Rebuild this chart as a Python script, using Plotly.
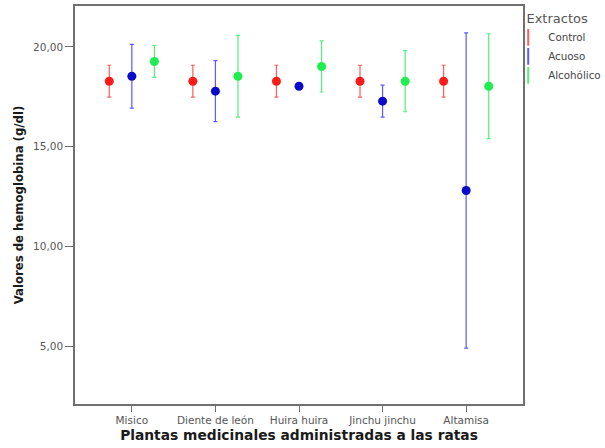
import plotly.graph_objects as go

categories = ["Misico", "Diente de león", "Huira huira", "Jinchu jinchu", "Altamisa"]
series_names = ["Control", "Acuoso", "Alcohólico"]

control_mean = [18.28, 18.28, 18.28, 18.28, 18.28]
control_err = [0.80, 0.80, 0.80, 0.80, 0.80]

acuoso_mean = [18.53, 17.78, 18.03, 17.28, 12.80]
acuoso_err = [1.60, 1.53, 0.0, 0.80, 7.90]

alcoholico_mean = [19.27, 18.53, 19.02, 18.28, 18.03]
alcoholico_err = [0.80, 2.05, 1.28, 1.53, 2.63]

y_tickvals = [5, 10, 15, 20]

marker_colors = ["#ff1a1a", "#0a0ac8", "#1fee50"]
bar_colors = ["#ff5c5c", "#5a5aff", "#52f07a"]

means = [control_mean, acuoso_mean, alcoholico_mean]
errs = [control_err, acuoso_err, alcoholico_err]
offsets = [-0.27, 0.0, 0.27]

fig = go.Figure()
for k in range(3):
    xs = [i + offsets[k] for i in range(len(categories))]
    fig.add_trace(go.Scatter(
        x=xs, y=means[k], mode="markers", name=series_names[k],
        showlegend=False,
        marker=dict(color=marker_colors[k], size=9, symbol="circle"),
        error_y=dict(type="data", array=errs[k], visible=True,
                     color=bar_colors[k], thickness=1.2, width=2),
        text=categories,
    ))
# legend entries with an error-bar like glyph
for k in range(3):
    fig.add_trace(go.Scatter(
        x=[None], y=[None], mode="markers", name=series_names[k],
        marker=dict(color=bar_colors[k], size=8, symbol="line-ns-open",
                    line=dict(color=marker_colors[k], width=1.6)),
    ))

axis_color = "#707070"
tick_font = dict(family="DejaVu Sans, Verdana, sans-serif", size=10.5, color="#555555")
title_family = "DejaVu Sans, Verdana, sans-serif"
fig.update_layout(
    width=605, height=448,
    margin=dict(l=75, r=82, t=6, b=44, autoexpand=False),
    paper_bgcolor="white", plot_bgcolor="white",
    separators=",.",
    font=dict(family="DejaVu Sans, Verdana, sans-serif", color="#444444", size=10),
    xaxis=dict(
        range=[-0.68, 4.68], automargin=False,
        tickmode="array", tickvals=list(range(len(categories))), ticktext=categories,
        showgrid=False, zeroline=False,
        showline=True, linecolor=axis_color, linewidth=1.6, mirror=True,
        ticks="outside", ticklen=6, tickcolor=axis_color, tickwidth=1.2,
        tickfont=tick_font,
        title=dict(text="<b>Plantas medicinales administradas a las ratas</b>",
                   font=dict(family=title_family, size=13.8, color="#1a1a1a"), standoff=5),
    ),
    yaxis=dict(
        range=[2.1, 22.05], automargin=False,
        tickmode="array", tickvals=y_tickvals, tickformat=".2f",
        showgrid=False, zeroline=False,
        showline=True, linecolor=axis_color, linewidth=1.6, mirror=True,
        ticks="outside", ticklen=8, tickcolor=axis_color, tickwidth=1.2,
        tickfont=tick_font,
        title=dict(text="<b>Valores de hemoglobina (g/dl)</b>",
                   font=dict(family=title_family, size=11.7, color="#1a1a1a"), standoff=7),
    ),
    legend=dict(
        x=0.967, y=1.0, xanchor="left", yanchor="top",
        bgcolor="rgba(0,0,0,0)",
        title=dict(text="Extractos", font=dict(size=13, color="#555555"), side="top center"),
        font=dict(size=10.3, color="#444444"),
        itemsizing="constant",
    ),
)

fig.write_html("out.html", config={"displayModeBar": False},
               post_script="document.body.style.margin='0px';")
